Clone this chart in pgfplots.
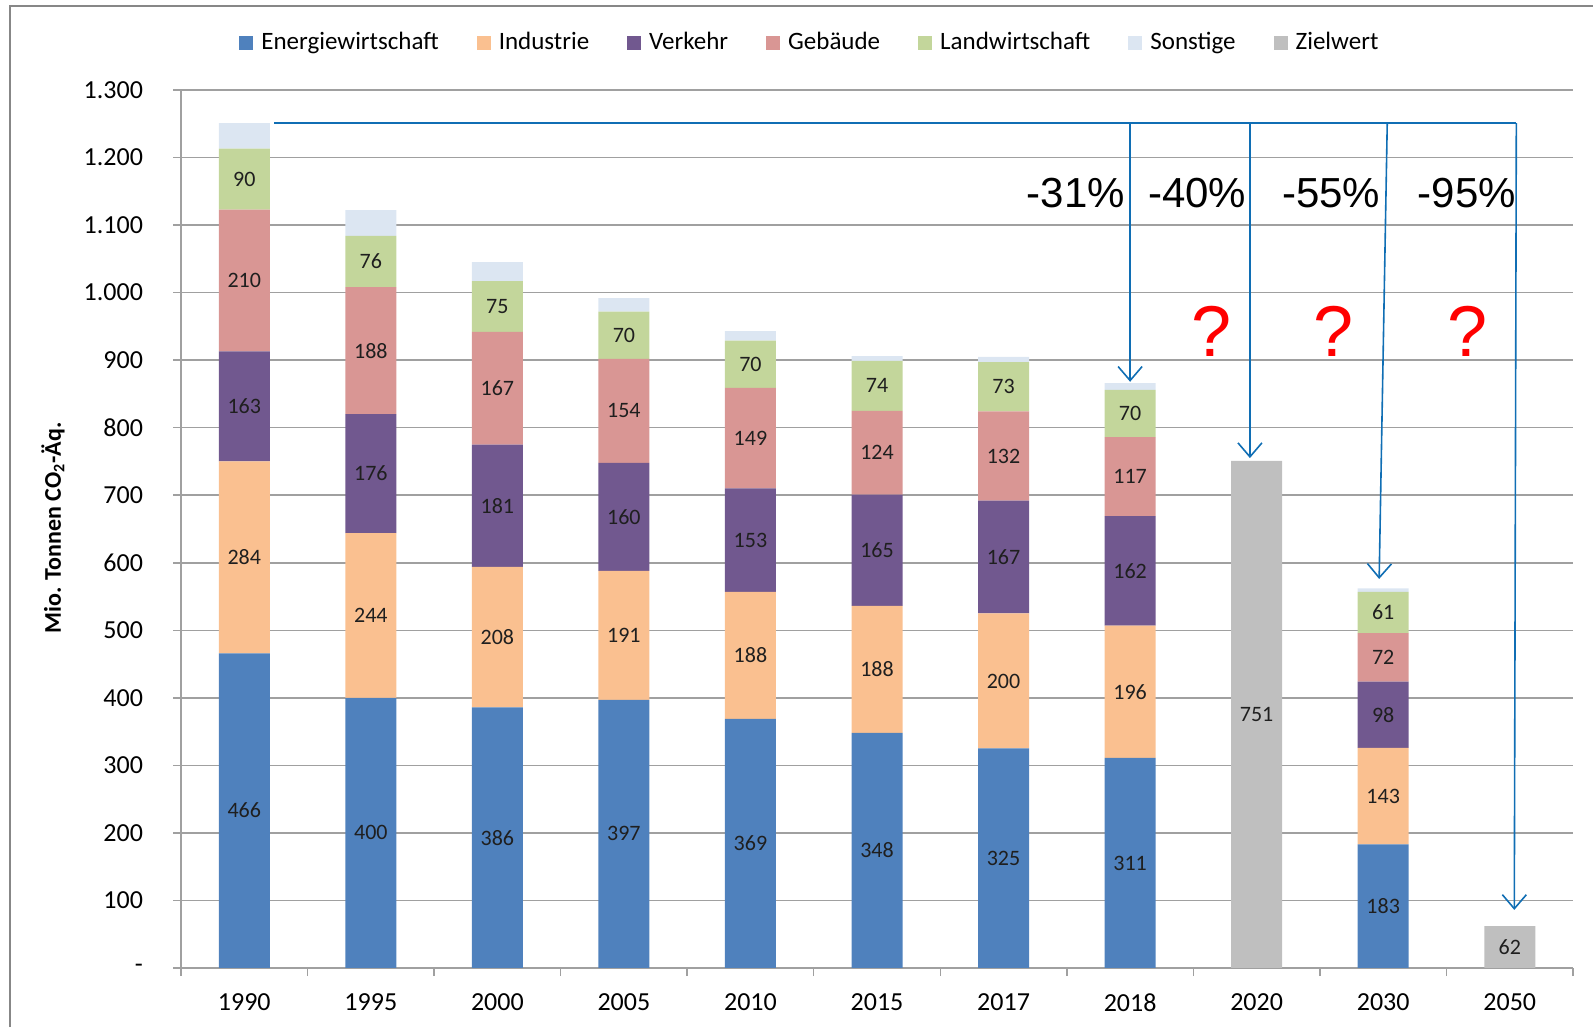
\documentclass[border=0pt]{standalone}
\usepackage{pgfplots}
\pgfplotsset{compat=1.18}
\usepackage{pgfplotstable}
\usepackage{fontspec}
\setmainfont{Carlito}
\newfontfamily\arialf{Liberation Sans}
\usetikzlibrary{arrows.meta}

\definecolor{cE}{RGB}{79,129,189}
\definecolor{cI}{RGB}{250,192,144}
\definecolor{cV}{RGB}{113,88,143}
\definecolor{cG}{RGB}{217,150,148}
\definecolor{cL}{RGB}{195,214,155}
\definecolor{cS}{RGB}{220,230,242}
\definecolor{cZ}{RGB}{191,191,191}
\definecolor{gridgray}{RGB}{160,160,160}
\definecolor{framegray}{RGB}{135,135,135}
\definecolor{arrowblue}{RGB}{16,110,180}

\pgfplotstableread{
x E I V G L S Z
0 466 284 163 210 90 38 0
1 400 244 176 188 76 38 0
2 386 208 181 167 75 28 0
3 397 191 160 154 70 20 0
4 369 188 153 149 70 14 0
5 348 188 165 124 74 7 0
6 325 200 167 132 73 8 0
7 311 196 162 117 70 10 0
8 0 0 0 0 0 0 751
9 183 143 98 72 61 5 0
10 0 0 0 0 0 0 62
}\data

\pgfplotsset{
  seglabel/.style={
    nodes near coords={\pgfmathfloatifflags{\pgfplotspointmeta}{0}{}{\pgfmathprintnumber{\pgfplotspointmeta}}},
    point meta=explicit,
    every node near coord/.append style={anchor=center,
      font=\fontsize{11}{12}\selectfont, text=black!88},
  },
}

\begin{document}
\begin{tikzpicture}
\useasboundingbox (0,0) rectangle (796.5pt,513.5pt);
\draw[framegray, line width=1pt] (5pt,0) -- (5pt,510.65pt) -- (796.5pt,510.65pt);
\begin{axis}[
  at={(90.5pt,29.5pt)}, anchor=south west,
  scale only axis, width=696pt, height=439pt,
  ybar stacked, bar width=25.5pt,
  every axis plot post/.append style={legend image code/.code={\fill[##1] (0pt,-3.5pt) rectangle (7pt,3.5pt);}},
  xmin=-0.5, xmax=10.5, ymin=0, ymax=1300,
  axis x line*=bottom, axis y line*=left,
  axis line style={gridgray, line width=0.9pt},
  xtick={-0.5,0.5,...,10.5},
  xticklabel={\phantom{0}},
  extra x ticks={0,1,2,3,4,5,6,7,8,9,10},
  extra x tick labels={1990,1995,2000,2005,2010,2015,2017,2018,2020,2030,2050},
  extra x tick style={major tick length=0pt, grid=none},
  xticklabel style={yshift=-9.5pt},
  ytick={0,100,...,1300},
  yticklabels={-,100,200,300,400,500,600,700,800,900,1.000,1.100,1.200,1.300},
  yticklabel style={xshift=-11.5pt},
  tick align=outside,
  major tick length=4pt,
  tick style={gridgray, line width=0.75pt},
  ymajorgrids, major grid style={gridgray, line width=0.75pt},
  tick label style={font=\fontsize{13}{15}\selectfont, text=black},
  /pgf/number format/assume math mode=true,
  ylabel={Mio. Tonnen CO\textsubscript{2}-Äq.},
  ylabel style={at={(axis description cs:-0.092,0.501)}, anchor=center, font=\bfseries\fontsize{12}{14}\selectfont},
  legend columns=-1,
  legend style={at={(axis description cs:0.4525,1.0538)}, anchor=center, draw=none, fill=none,
    font=\fontsize{12.5}{14}\selectfont,
    /tikz/every odd column/.append style={column sep=2pt},
    /tikz/every even column/.append style={column sep=17pt}},
  clip=false,
]
\addplot[fill=cE, draw=none, seglabel] table[x=x, y=E, meta=E] {\data};
\addlegendentry{Energiewirtschaft}
\addplot[fill=cI, draw=none, seglabel] table[x=x, y=I, meta=I] {\data};
\addlegendentry{Industrie}
\addplot[fill=cV, draw=none, seglabel] table[x=x, y=V, meta=V] {\data};
\addlegendentry{Verkehr}
\addplot[fill=cG, draw=none, seglabel] table[x=x, y=G, meta=G] {\data};
\addlegendentry{Gebäude}
\addplot[fill=cL, draw=none, seglabel] table[x=x, y=L, meta=L] {\data};
\addlegendentry{Landwirtschaft}
\addplot[fill=cS, draw=none] table[x=x, y=S] {\data};
\addlegendentry{Sonstige}
\addplot[fill=cZ, draw=none, seglabel] table[x=x, y=Z, meta=Z] {\data};
\addlegendentry{Zielwert}

% annotation arrows
\draw[arrowblue, line width=0.8pt] (axis cs:0.235,1251) -- (axis cs:10.052,1251);
\draw[arrowblue, line width=0.8pt, -{Straight Barb[length=7pt,width=12pt]}] (axis cs:7,1251) -- (axis cs:7,868);
\draw[arrowblue, line width=0.8pt, -{Straight Barb[length=7pt,width=12pt]}] (axis cs:7.947,1251) -- (axis cs:7.947,755);
\draw[arrowblue, line width=0.8pt, -{Straight Barb[length=7pt,width=12pt]}] (axis cs:9.032,1251) -- (axis cs:8.968,576);
\draw[arrowblue, line width=0.8pt, -{Straight Barb[length=7pt,width=12pt]}] (axis cs:10.052,1251) -- (axis cs:10.036,86);

\node[font=\arialf\fontsize{21}{24}\selectfont] at (axis cs:6.57,1147) {-31\%};
\node[font=\arialf\fontsize{21}{24}\selectfont] at (axis cs:7.53,1147) {-40\%};
\node[font=\arialf\fontsize{21}{24}\selectfont] at (axis cs:8.59,1147) {-55\%};
\node[font=\arialf\fontsize{21}{24}\selectfont] at (axis cs:9.66,1147) {-95\%};

\node[font=\arialf\fontsize{36}{40}\selectfont, text=red] at (axis cs:7.64,943) {?};
\node[font=\arialf\fontsize{36}{40}\selectfont, text=red] at (axis cs:8.61,943) {?};
\node[font=\arialf\fontsize{36}{40}\selectfont, text=red] at (axis cs:9.67,943) {?};
\end{axis}
\end{tikzpicture}
\end{document}
